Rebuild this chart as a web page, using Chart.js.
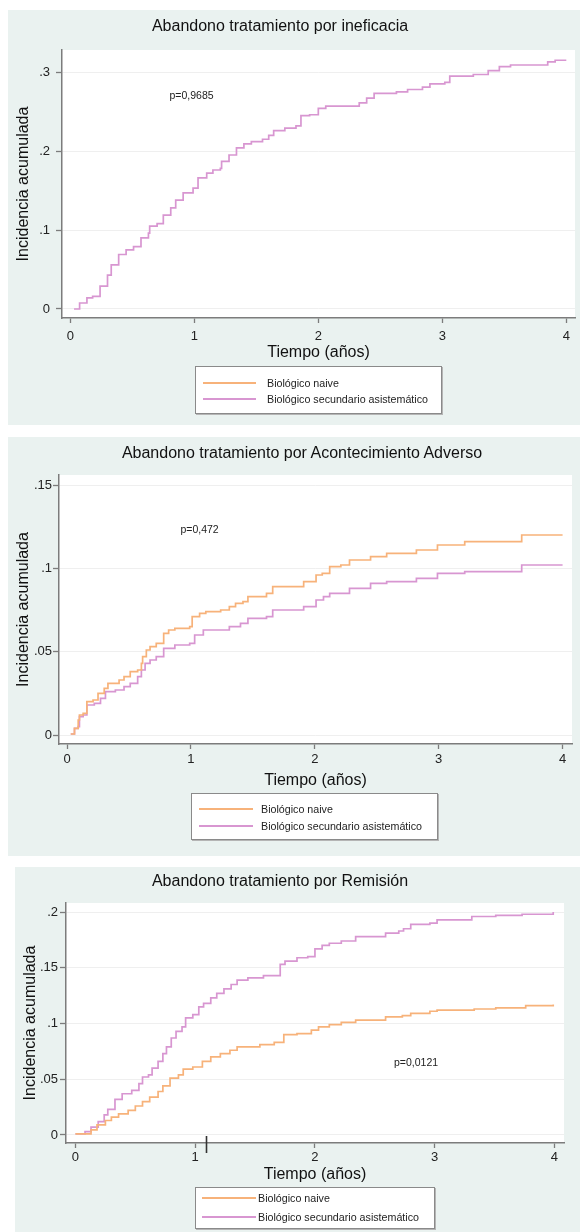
<!DOCTYPE html>
<html><head><meta charset="utf-8">
<script src="https://cdn.jsdelivr.net/npm/chart.js@4.4.1/dist/chart.umd.min.js"></script>
<style>
html,body{margin:0;padding:0;background:#fff;width:580px;height:1232px;overflow:hidden;font-family:"Liberation Sans",Arial,sans-serif;}
.bg{position:absolute;background:#eaf2f0;}
.cv{position:absolute;}
.title{position:absolute;font-size:16px;color:#111;white-space:nowrap;transform:translate(-50%,-50%);}
.legend{position:absolute;background:#fff;border:1px solid #8a8a8a;box-shadow:1px 1px 0 #b5b5b5;box-sizing:border-box;}
.legend .ln{position:absolute;height:2px;}
.legend .tx{position:absolute;font-size:10.7px;color:#222;white-space:nowrap;transform:translateY(-50%);}
</style>
</head><body>
<script>
// ---------- data ----------
const seriesNames = ['Biológico naive', 'Biológico secundario asistemático'];
const titles = ['Abandono tratamiento por ineficacia', 'Abandono tratamiento por Acontecimiento Adverso', 'Abandono tratamiento por Remisión'];
const pLabels = ['p=0,9685', 'p=0,472', 'p=0,0121'];
const xTitle = 'Tiempo (años)';
const yTitle = 'Incidencia acumulada';
const xTickValues = [0, 1, 2, 3, 4];
const xTickLabels = ['0', '1', '2', '3', '4'];
const yTickValues1 = [0, 0.1, 0.2, 0.3];
const yTickLabels1 = ['0', '.1', '.2', '.3'];
const yTickValues2 = [0, 0.05, 0.1, 0.15];
const yTickLabels2 = ['0', '.05', '.1', '.15'];
const yTickValues3 = [0, 0.05, 0.1, 0.15, 0.2];
const yTickLabels3 = ['0', '.05', '.1', '.15', '.2'];

// Panel 1: ineficacia (naive curve not visible)
const p1NaiveT = [];
const p1NaiveY = [];
const p1SecT = [0.03,0.075,0.134,0.18,0.24,0.30,0.33,0.39,0.45,0.51,0.57,0.63,0.64,0.70,0.75,0.81,0.85,0.91,0.99,1.03,1.10,1.15,1.21,1.22,1.28,1.34,1.40,1.46,1.55,1.60,1.64,1.73,1.82,1.86,1.93,2.00,2.06,2.21,2.33,2.39,2.45,2.63,2.72,2.84,2.90,3.02,3.06,3.25,3.37,3.46,3.55,3.82,3.85,3.91,4.0];
const p1SecY = [0,0.0076,0.014,0.016,0.029,0.043,0.056,0.069,0.075,0.079,0.090,0.096,0.105,0.108,0.119,0.128,0.138,0.147,0.153,0.166,0.172,0.176,0.178,0.187,0.195,0.204,0.209,0.212,0.215,0.220,0.226,0.229,0.232,0.245,0.246,0.254,0.257,0.257,0.261,0.267,0.273,0.275,0.278,0.281,0.285,0.287,0.295,0.297,0.302,0.307,0.309,0.309,0.313,0.315,0.315];

// Panel 2: acontecimiento adverso
const p2NaiveT = [0.03,0.06,0.09,0.10,0.13,0.16,0.21,0.25,0.30,0.33,0.39,0.42,0.46,0.51,0.57,0.60,0.61,0.64,0.67,0.72,0.78,0.82,0.87,0.99,1.01,1.07,1.12,1.24,1.31,1.36,1.42,1.46,1.61,1.66,1.91,2.01,2.06,2.12,2.21,2.28,2.34,2.45,2.58,2.82,2.99,3.21,3.67,4.0];
const p2NaiveY = [0.0006,0.004,0.009,0.012,0.013,0.020,0.021,0.025,0.028,0.031,0.031,0.033,0.035,0.038,0.039,0.043,0.047,0.051,0.053,0.055,0.061,0.063,0.064,0.065,0.071,0.073,0.074,0.075,0.077,0.079,0.080,0.083,0.085,0.089,0.092,0.096,0.097,0.101,0.102,0.105,0.105,0.107,0.109,0.111,0.114,0.116,0.120,0.120];
const p2SecT = [0.03,0.06,0.09,0.10,0.13,0.16,0.22,0.27,0.31,0.39,0.46,0.51,0.57,0.60,0.63,0.67,0.72,0.78,0.87,0.99,1.03,1.10,1.22,1.31,1.40,1.46,1.61,1.66,1.91,2.01,2.07,2.12,2.28,2.45,2.58,2.82,2.99,3.21,3.67,4.0];
const p2SecY = [0.0006,0.004,0.005,0.011,0.012,0.018,0.019,0.022,0.026,0.027,0.029,0.031,0.035,0.039,0.043,0.045,0.047,0.052,0.054,0.055,0.060,0.063,0.063,0.065,0.067,0.070,0.071,0.075,0.077,0.081,0.083,0.085,0.088,0.091,0.092,0.094,0.097,0.098,0.102,0.102];

// Panel 3: remisión
const p3NaiveT = [0.0,0.13,0.18,0.25,0.30,0.36,0.44,0.50,0.56,0.62,0.69,0.73,0.79,0.86,0.90,0.98,1.06,1.13,1.21,1.29,1.35,1.54,1.66,1.74,1.85,1.97,2.03,2.12,2.22,2.34,2.59,2.73,2.80,2.96,3.02,3.33,3.51,3.76,3.99];
const p3NaiveY = [0.001,0.0045,0.009,0.013,0.016,0.019,0.022,0.026,0.030,0.034,0.039,0.044,0.051,0.054,0.059,0.061,0.066,0.070,0.073,0.076,0.079,0.081,0.083,0.090,0.091,0.094,0.097,0.099,0.101,0.103,0.106,0.107,0.109,0.111,0.112,0.113,0.114,0.116,0.117];
const p3SecT = [0.0,0.08,0.13,0.19,0.24,0.27,0.33,0.39,0.47,0.53,0.56,0.61,0.64,0.69,0.73,0.76,0.80,0.84,0.89,0.92,0.98,1.03,1.07,1.13,1.18,1.24,1.30,1.35,1.44,1.57,1.71,1.75,1.85,1.94,2.00,2.06,2.12,2.22,2.34,2.59,2.70,2.74,2.80,2.96,3.02,3.31,3.51,3.73,3.99];
const p3SecY = [0.001,0.003,0.007,0.012,0.018,0.023,0.032,0.037,0.040,0.046,0.052,0.054,0.060,0.066,0.073,0.079,0.087,0.093,0.097,0.105,0.108,0.115,0.118,0.123,0.127,0.131,0.135,0.139,0.141,0.143,0.153,0.156,0.159,0.160,0.167,0.170,0.172,0.174,0.178,0.181,0.183,0.185,0.189,0.190,0.193,0.196,0.197,0.198,0.200];

// ---------- styling / layout ----------
const FONT = '"Liberation Sans", Arial, Helvetica, sans-serif';
const colors = ['#f7b27a', '#d896d1'];
const axisColor = '#7c7c7c';

const panels = [
  { bg:{l:8,t:10,w:572,h:415}, cv:{l:8,t:10,w:572,h:360}, pad:{top:40,right:5,bottom:8,left:0},
    yW:54, xH:44, xMin:-0.067, xMax:4.07, yMin:-0.0114, yMax:0.328,
    yTickPad:6, xTickPad:6, yVals:yTickValues1, yLabs:yTickLabels1,
    naive:[p1NaiveT,p1NaiveY], sec:[p1SecT,p1SecY],
    title:{x:280,y:26}, pAt:{x:0.80,y:0.27},
    leg:{l:195,t:366,w:247,h:48,lineL:7,lineW:53,textL:71,rows:[17,33]} },
  { bg:{l:8,t:437,w:572,h:419}, cv:{l:8,t:437,w:572,h:360}, pad:{top:38,right:8,bottom:7,left:0},
    yW:51, xH:46, xMin:-0.065, xMax:4.076, yMin:-0.0054, yMax:0.156,
    yTickPad:1, xTickPad:3, yVals:yTickValues2, yLabs:yTickLabels2,
    naive:[p2NaiveT,p2NaiveY], sec:[p2SecT,p2SecY],
    title:{x:302,y:453}, pAt:{x:0.915,y:0.123},
    leg:{l:191,t:793,w:247,h:47,lineL:7,lineW:54,textL:69,rows:[16,33]} },
  { bg:{l:15,t:867,w:565,h:365}, cv:{l:15,t:867,w:565,h:330}, pad:{top:36,right:16,bottom:13,left:0},
    yW:51, xH:41, xMin:-0.079, xMax:4.08, yMin:-0.0072, yMax:0.2081,
    yTickPad:2, xTickPad:2, yVals:yTickValues3, yLabs:yTickLabels3,
    naive:[p3NaiveT,p3NaiveY], sec:[p3SecT,p3SecY],
    title:{x:280,y:881}, pAt:{x:2.66,y:0.0646}, mark:{x:1.09},
    leg:{l:195,t:1187,w:240,h:42,lineL:6,lineW:54,textL:62,rows:[11,30]} }
];

function toXY(t, y) { return t.map((v, i) => ({ x: v, y: y[i] })); }

const plotBgPlugin = {
  id: 'plotBg',
  beforeDraw(chart) {
    const a = chart.chartArea, ctx = chart.ctx;
    ctx.save(); ctx.fillStyle = '#ffffff';
    ctx.fillRect(a.left, a.top, a.right - a.left, a.bottom - a.top);
    ctx.restore();
  }
};
const annotPlugin = {
  id: 'annot',
  afterDraw(chart, args, opts) {
    const ctx = chart.ctx, xs = chart.scales.x, ys = chart.scales.y;
    ctx.save();
    ctx.fillStyle = '#222';
    ctx.font = '10.5px ' + FONT;
    ctx.textAlign = 'left'; ctx.textBaseline = 'middle';
    ctx.fillText(opts.text, xs.getPixelForValue(opts.x), ys.getPixelForValue(opts.y));
    if (opts.mark) {
      const px = Math.round(xs.getPixelForValue(opts.mark.x)) + 0.5;
      const b = chart.chartArea.bottom;
      ctx.strokeStyle = '#333'; ctx.lineWidth = 1.6;
      ctx.beginPath(); ctx.moveTo(px, b - 7); ctx.lineTo(px, b + 10); ctx.stroke();
    }
    ctx.restore();
  }
};

panels.forEach((p, idx) => {
  const bg = document.createElement('div');
  bg.className = 'bg';
  Object.assign(bg.style, { left: p.bg.l + 'px', top: p.bg.t + 'px', width: p.bg.w + 'px', height: p.bg.h + 'px' });
  document.body.appendChild(bg);

  const cv = document.createElement('canvas');
  cv.className = 'cv';
  cv.width = p.cv.w; cv.height = p.cv.h;
  Object.assign(cv.style, { left: p.cv.l + 'px', top: p.cv.t + 'px', width: p.cv.w + 'px', height: p.cv.h + 'px' });
  document.body.appendChild(cv);

  const t = document.createElement('div');
  t.className = 'title'; t.textContent = titles[idx];
  Object.assign(t.style, { left: p.title.x + 'px', top: p.title.y + 'px' });
  document.body.appendChild(t);

  const leg = document.createElement('div');
  leg.className = 'legend';
  Object.assign(leg.style, { left: p.leg.l + 'px', top: p.leg.t + 'px', width: p.leg.w + 'px', height: p.leg.h + 'px' });
  seriesNames.forEach((name, i) => {
    const ln = document.createElement('div');
    ln.className = 'ln';
    Object.assign(ln.style, { left: p.leg.lineL + 'px', top: (p.leg.rows[i] - 2) + 'px', width: p.leg.lineW + 'px', background: colors[i] });
    leg.appendChild(ln);
    const tx = document.createElement('div');
    tx.className = 'tx'; tx.textContent = name;
    Object.assign(tx.style, { left: p.leg.textL + 'px', top: (p.leg.rows[i] - 1) + 'px' });
    leg.appendChild(tx);
  });
  document.body.appendChild(leg);

  new Chart(cv, {
    type: 'line',
    data: {
      datasets: [
        { label: seriesNames[0], data: toXY(p.naive[0], p.naive[1]), borderColor: colors[0], borderWidth: 1.7, pointRadius: 0, stepped: true, fill: false },
        { label: seriesNames[1], data: toXY(p.sec[0], p.sec[1]), borderColor: colors[1], borderWidth: 1.7, pointRadius: 0, stepped: true, fill: false }
      ]
    },
    options: {
      responsive: false, animation: false, devicePixelRatio: 1,
      layout: { padding: p.pad },
      plugins: {
        legend: { display: false }, tooltip: { enabled: false }, title: { display: false },
        annot: { text: pLabels[idx], x: p.pAt.x, y: p.pAt.y, mark: p.mark }
      },
      scales: {
        x: {
          type: 'linear', min: p.xMin, max: p.xMax,
          afterBuildTicks: s => { s.ticks = xTickValues.map(v => ({ value: v })); },
          afterFit: s => { s.height = p.xH; },
          ticks: { font: { family: FONT, size: 13 }, color: '#222', padding: p.xTickPad, maxRotation: 0, autoSkip: false,
                   callback: (v, i) => xTickLabels[i] },
          grid: { drawOnChartArea: false, tickLength: 5, tickColor: axisColor, tickWidth: 1.3, color: axisColor },
          border: { display: true, color: axisColor, width: 1.5 },
          title: { display: true, text: xTitle, font: { family: FONT, size: 16 }, color: '#111', padding: { top: 0, bottom: 0 } }
        },
        y: {
          type: 'linear', min: p.yMin, max: p.yMax,
          afterBuildTicks: s => { s.ticks = p.yVals.map(v => ({ value: v })); },
          afterFit: s => { s.width = p.yW; },
          ticks: { font: { family: FONT, size: 13 }, color: '#222', padding: p.yTickPad, autoSkip: false,
                   callback: (v, i) => p.yLabs[i] },
          grid: { drawOnChartArea: true, tickLength: 6, tickColor: axisColor, tickWidth: 1.3, color: '#efefef', lineWidth: 1 },
          border: { display: true, color: axisColor, width: 1.5 },
          title: { display: true, text: yTitle, font: { family: FONT, size: 16 }, color: '#111', padding: { top: 6, bottom: 0 } }
        }
      }
    },
    plugins: [plotBgPlugin, annotPlugin]
  });
});
</script>
</body></html>
